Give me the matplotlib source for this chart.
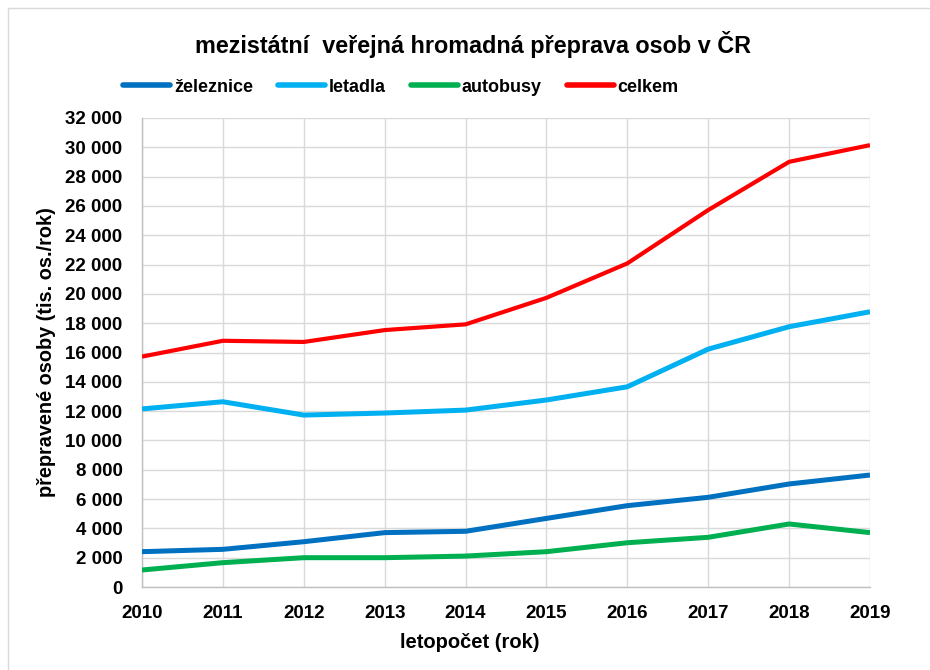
import matplotlib
matplotlib.use("Agg")
import matplotlib.pyplot as plt
from matplotlib import font_manager
from matplotlib.patches import Rectangle
from matplotlib.ticker import FuncFormatter, MultipleLocator

years = [2010, 2011, 2012, 2013, 2014, 2015, 2016, 2017, 2018, 2019]
zeleznice = [2410, 2570, 3090, 3710, 3800, 4680, 5550, 6120, 7030, 7640]
letadla = [12150, 12640, 11730, 11870, 12070, 12760, 13660, 16230, 17760, 18780]
autobusy = [1160, 1660, 2000, 2000, 2110, 2410, 3020, 3390, 4300, 3710]
celkem = [15720, 16800, 16720, 17530, 17920, 19730, 22080, 25720, 29010, 30150]

series_names = ["železnice", "letadla", "autobusy", "celkem"]
title = "mezistátní  veřejná hromadná přeprava osob v ČR"
xlabel = "letopočet (rok)"
ylabel = "přepravené osoby (tis. os./rok)"

names = {f.name for f in font_manager.fontManager.ttflist}
narrow = "Liberation Sans Narrow" if "Liberation Sans Narrow" in names else "Liberation Sans"
NARROW = [narrow, "DejaVu Sans"]
WIDE = ["Liberation Sans", "DejaVu Sans"]

fig = plt.figure(figsize=(9.30, 6.70), dpi=100)
fig.patches.append(Rectangle((8 / 930, -0.1), 1.2, 1 - 8 / 670 + 0.1, transform=fig.transFigure,
                             fill=False, edgecolor="#d9d9d9", linewidth=1.0))
ax = fig.add_axes([142 / 930, 1 - 587 / 670, (870 - 142) / 930, (587 - 118) / 670])

colors = ["#0070C0", "#00B0F0", "#00B050", "#FF0000"]
widths = [3.6, 3.6, 3.6, 3.0]
for data, name, c, w in zip([zeleznice, letadla, autobusy, celkem], series_names, colors, widths):
    ax.plot(years, data, color=c, linewidth=w, label=name, solid_capstyle="butt", zorder=3)

ax.set_xlim(2010, 2019)
ax.set_ylim(0, 32000)
ax.set_xticks(years)
ax.yaxis.set_major_locator(MultipleLocator(2000))
ax.yaxis.set_major_formatter(FuncFormatter(lambda v, p: f"{int(v):,}".replace(",", " ")))
ax.grid(True, color="#d9d9d9", linewidth=1.0, zorder=0)
for s in ["top", "right"]:
    ax.spines[s].set_visible(False)
for s in ["left", "bottom"]:
    ax.spines[s].set_color("#bfbfbf")
    ax.spines[s].set_linewidth(1.0)
ax.tick_params(length=0)
for lab in ax.get_xticklabels() + ax.get_yticklabels():
    lab.set_fontfamily(NARROW)
    lab.set_fontweight("bold")
    lab.set_fontsize(13.5)
ax.tick_params(axis="x", pad=13)
ax.tick_params(axis="y", pad=14)

fig.text(473 / 930, 1 - 45 / 670, title, ha="center", va="center", fontsize=16.8,
         fontweight="bold", family=NARROW)
fig.text(470 / 930, 1 - 642 / 670, xlabel, ha="center", va="center", fontsize=14.5,
         fontweight="bold", family=NARROW)
fig.text(47 / 930, 1 - 352 / 670, ylabel, ha="center", va="center", rotation=90,
         fontsize=14.3, fontweight="bold", family=WIDE)

leg = fig.legend(loc="center", bbox_to_anchor=(401 / 930, 1 - 87 / 670), ncol=4, frameon=False,
                 prop={"family": NARROW, "weight": "bold", "size": 13},
                 handlelength=2.6, handletextpad=0.2, columnspacing=1.4)
for h in leg.get_lines():
    h.set_linewidth(4.0)
    h.set_solid_capstyle("round")

fig.savefig("out.png", dpi=100)
